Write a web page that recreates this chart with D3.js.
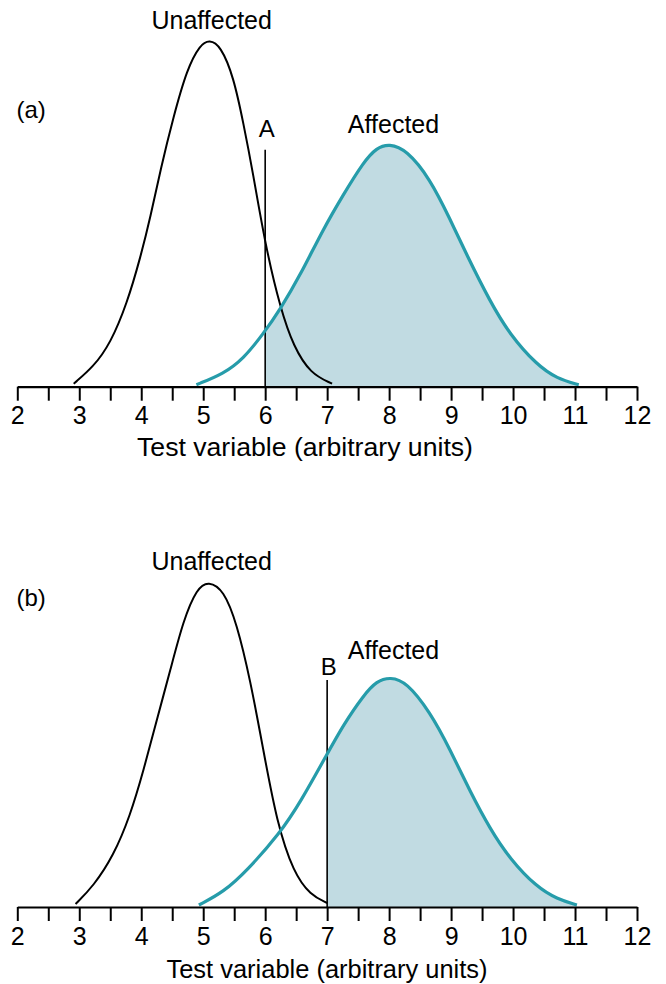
<!DOCTYPE html>
<html><head><meta charset="utf-8">
<script src="https://cdn.jsdelivr.net/npm/d3@7/dist/d3.min.js"></script>
<style>body{margin:0;background:#fff}svg{display:block}</style></head>
<body><svg id="chart" width="666" height="984"></svg>
<script>
// ---------- data ----------
const tickValues = [2,2.5,3,3.5,4,4.5,5,5.5,6,6.5,7,7.5,8,8.5,9,9.5,10,10.5,11,11.5,12];
const tickLabels = ["2","3","4","5","6","7","8","9","10","11","12"];
const panelLabels = ["(a)", "(b)"];
const groupLabels = ["Unaffected", "Affected"];
const axisTitle = "Test variable (arbitrary units)";
const cutoffLabels = ["A", "B"];
const cutoffValues = [6, 7];
const cutoffHeights = [0.237, 0.227];

// panel (a) — [test value, relative density]
const unaffectedA = [[2.91,0.003],[3.23,0.020],[3.5,0.043],[3.77,0.083],[3.99,0.130],[4.15,0.170],[4.31,0.217],[4.52,0.270],[4.74,0.318],[4.95,0.342],[5.10,0.347],[5.28,0.341],[5.49,0.310],[5.65,0.263],[5.80,0.215],[6.0,0.142],[6.25,0.077],[6.46,0.040],[6.73,0.013],[7.08,0.003]];
const affectedA = [[4.89,0.002],[5.33,0.013],[5.65,0.028],[5.97,0.053],[6.24,0.077],[6.57,0.112],[6.94,0.158],[7.26,0.192],[7.59,0.225],[7.80,0.239],[8.0,0.243],[8.28,0.237],[8.66,0.208],[8.98,0.168],[9.25,0.132],[9.63,0.085],[9.95,0.052],[10.38,0.022],[10.71,0.008],[11.06,0.002]];
// panel (b)
const unaffectedB = [[2.94,0.003],[3.23,0.021],[3.55,0.051],[3.82,0.091],[4.04,0.137],[4.25,0.187],[4.47,0.237],[4.68,0.287],[4.90,0.319],[5.085,0.326],[5.33,0.317],[5.54,0.284],[5.76,0.227],[5.97,0.157],[6.19,0.084],[6.46,0.034],[6.73,0.012],[7.0,0.004]];
const affectedB = [[4.93,0.002],[5.33,0.015],[5.70,0.036],[6.23,0.073],[6.57,0.105],[7.0,0.153],[7.26,0.182],[7.59,0.212],[7.80,0.226],[8.02,0.230],[8.28,0.225],[8.66,0.195],[8.98,0.158],[9.31,0.115],[9.63,0.078],[9.95,0.048],[10.38,0.020],[10.71,0.008],[11.03,0.002]];

// ---------- layout ----------
const TEAL = "#269caa", FILL = "#c1dbe2";
const FONT = "'Liberation Sans', Arial, sans-serif";
const svg = d3.select("#chart");
const x = d3.scaleLinear().domain([2, 12]).range([17.3, 637]);

const panels = [
  {base: 386.7, un: unaffectedA, af: affectedA, label: panelLabels[0], labelY: 117.5,
   unY: 29, afY: 133.3, cut: cutoffValues[0], cutH: cutoffHeights[0], cutLab: cutoffLabels[0], cutLabY: 137,
   titleX: 305, titleY: 455.5, titleLen: 336},
  {base: 907, un: unaffectedB, af: affectedB, label: panelLabels[1], labelY: 606,
   unY: 570, afY: 659.3, cut: cutoffValues[1], cutH: cutoffHeights[1], cutLab: cutoffLabels[1], cutLabY: 675,
   titleX: 327, titleY: 978, titleLen: 321}
];

const curve = d3.curveBasis;

panels.forEach((p, i) => {
  const y = d3.scaleLinear().domain([0, 0.35]).range([p.base, p.base - 350]);
  const g = svg.append("g");
  const line = d3.line().x(d => x(d[0])).y(d => y(d[1])).curve(curve);
  const area = d3.area().x(d => x(d[0])).y0(y(0)).y1(d => y(d[1])).curve(curve);

  const clipId = "clip" + i;
  svg.append("defs").append("clipPath").attr("id", clipId)
    .append("rect").attr("x", x(p.cut)).attr("y", 0)
    .attr("width", x(12) - x(p.cut)).attr("height", p.base);

  g.append("path").datum(p.af).attr("d", area).attr("fill", FILL).attr("clip-path", `url(#${clipId})`);

  g.append("line").attr("x1", x(p.cut)).attr("x2", x(p.cut))
    .attr("y1", y(p.cutH)).attr("y2", y(0)).attr("stroke", "#000").attr("stroke-width", 1.6);

  g.append("path").datum(p.un).attr("d", line).attr("fill", "none")
    .attr("stroke", "#000").attr("stroke-width", 2);
  g.append("path").datum(p.af).attr("d", line).attr("fill", "none")
    .attr("stroke", TEAL).attr("stroke-width", 3.2);

  const axis = d3.axisBottom(x).tickValues(tickValues).tickSize(14).tickSizeOuter(0).tickPadding(6)
    .tickFormat(d => Number.isInteger(d) ? tickLabels[d - 2] : "");
  const ag = g.append("g").attr("transform", `translate(0,${p.base})`).call(axis);
  ag.select(".domain").attr("stroke", "#000").attr("stroke-width", 2.2);
  ag.selectAll(".tick line").attr("stroke", "#000").attr("stroke-width", 2);
  ag.selectAll(".tick text").attr("fill", "#000").style("font-family", FONT).style("font-size", "25px");

  g.append("text").attr("x", p.titleX).attr("y", p.titleY).attr("text-anchor", "middle")
    .attr("textLength", p.titleLen).attr("lengthAdjust", "spacingAndGlyphs")
    .style("font-family", FONT).style("font-size", "25px").text(axisTitle);

  g.append("text").attr("x", 16.5).attr("y", p.labelY)
    .style("font-family", FONT).style("font-size", "24px").text(p.label);
  g.append("text").attr("x", 211.7).attr("y", p.unY).attr("text-anchor", "middle")
    .style("font-family", FONT).style("font-size", "25px").text(groupLabels[0]);
  g.append("text").attr("x", 393.5).attr("y", p.afY).attr("text-anchor", "middle")
    .style("font-family", FONT).style("font-size", "25px").text(groupLabels[1]);
  g.append("text").attr("x", x(p.cut) + 1.5).attr("y", p.cutLabY).attr("text-anchor", "middle")
    .style("font-family", FONT).style("font-size", "24px").text(p.cutLab);
});
</script></body></html>
